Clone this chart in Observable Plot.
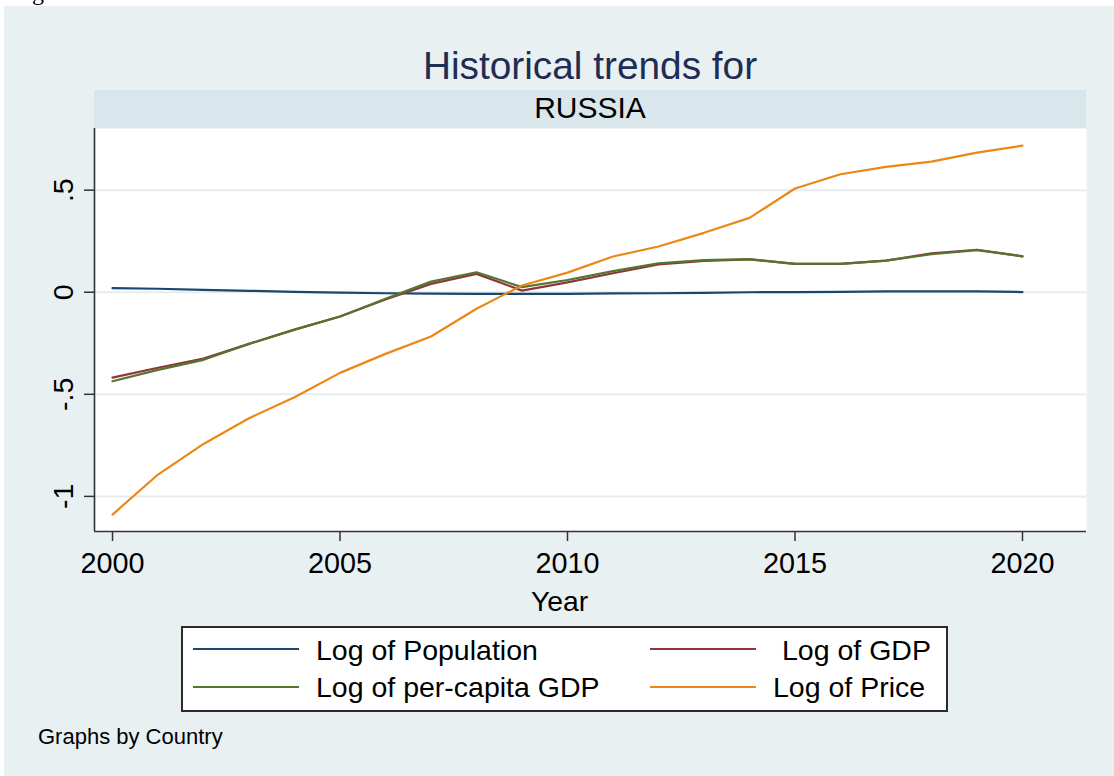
<!DOCTYPE html>
<html><head><meta charset="utf-8">
<script src="https://cdn.jsdelivr.net/npm/d3@7"></script>
<script src="https://cdn.jsdelivr.net/npm/@observablehq/plot@0.6"></script>
<style>
html,body{margin:0;padding:0;background:#fff;}
#root{position:relative;width:1114px;height:776px;overflow:hidden;font-family:"Liberation Sans",Arial,sans-serif;background:#fff;}
.abs{position:absolute;white-space:nowrap;line-height:1;}
</style></head><body><div id="root"></div>
<script>
// ---- data ----
const years = [2000, 2001, 2002, 2003, 2004, 2005, 2006, 2007, 2008, 2009, 2010,
               2011, 2012, 2013, 2014, 2015, 2016, 2017, 2018, 2019, 2020];
const logPopulation = [0.020, 0.017, 0.012, 0.007, 0.002, -0.002, -0.005, -0.007, -0.008, -0.008, -0.008,
                       -0.006, -0.005, -0.003, 0.000, 0.001, 0.002, 0.004, 0.004, 0.004, 0.001];
const logGDP = [-0.418, -0.370, -0.325, -0.253, -0.183, -0.119, -0.036, 0.041, 0.090, 0.008, 0.048,
                0.093, 0.136, 0.153, 0.161, 0.139, 0.139, 0.155, 0.190, 0.208, 0.176];
const logPerCapitaGDP = [-0.436, -0.380, -0.331, -0.253, -0.183, -0.119, -0.032, 0.052, 0.098, 0.025, 0.060,
                         0.103, 0.142, 0.157, 0.162, 0.139, 0.139, 0.155, 0.186, 0.206, 0.176];
const logPrice = [-1.089, -0.893, -0.743, -0.617, -0.514, -0.395, -0.302, -0.217, -0.081, 0.033, 0.096,
                  0.175, 0.224, 0.291, 0.364, 0.508, 0.578, 0.614, 0.640, 0.684, 0.718];
const seriesNames = ["Log of Population", "Log of GDP", "Log of per-capita GDP", "Log of Price"];
const seriesValues = [logPopulation, logGDP, logPerCapitaGDP, logPrice];
const seriesColors = ["#1a476f", "#90353b", "#55752f", "#ec8716"];
const xTicks = [2000, 2005, 2010, 2015, 2020];
const yTicks = [-1, -0.5, 0, 0.5];
const yTickLabels = ["-1", "-.5", "0", ".5"];
const titleText = "Historical trends for";
const stripText = "RUSSIA";
const xTitle = "Year";
const noteText = "Graphs by Country";

const xDomain = [1999.604, 2021.407];
const yDomain = [-1.172, 0.802];

// ---- build page ----
const root = document.getElementById("root");
function addText(txt, opts) {
  const d = document.createElement("div");
  d.className = "abs";
  d.textContent = txt;
  Object.assign(d.style, opts);
  root.appendChild(d);
  return d;
}
// cut-off glyph at very top (as in the reference)
addText("g", {left: "32px", top: "-20.5px", fontSize: "24px", fontFamily: "'Liberation Serif', serif", color: "#000", zIndex: 0});

const bg = document.createElement("div");
Object.assign(bg.style, {position: "absolute", left: "4px", top: "6px", width: "1110px", height: "770px", background: "#e8f0f2", zIndex: 1});
root.appendChild(bg);

function layer(el) { el.style.zIndex = 2; return el; }

// title
layer(addText(titleText, {left: "0px", width: "1180px", textAlign: "center", top: "47.4px", fontSize: "38.8px", color: "#1f2d54"}));

// strip
const strip = document.createElement("div");
Object.assign(strip.style, {position: "absolute", left: "94px", top: "89.5px", width: "992px", height: "39px",
  background: "#d9e6eb", textAlign: "center", fontSize: "30px", lineHeight: "36px", color: "#000", zIndex: 2});
strip.textContent = stripText;
root.appendChild(strip);

// plot
const rows = [];
seriesNames.forEach((s, i) => years.forEach((yr, j) => rows.push({series: s, year: yr, value: seriesValues[i][j]})));

const chart = Plot.plot({
  width: 1114, height: 492,
  marginLeft: 94, marginRight: 28, marginTop: 0, marginBottom: 89,
  style: {background: "transparent", fontFamily: "'Liberation Sans', Arial, sans-serif", overflow: "visible"},
  x: {domain: xDomain},
  y: {domain: yDomain},
  color: {domain: seriesNames, range: seriesColors},
  marks: [
    Plot.frame({fill: "white", stroke: null}),
    Plot.gridY(yTicks, {stroke: "#e4edf0", strokeOpacity: 1, strokeWidth: 2}),
    Plot.line(rows, {x: "year", y: "value", z: "series", stroke: "series", strokeWidth: 2.2}),
    Plot.ruleX([xDomain[0]], {stroke: "#333", strokeWidth: 1.6}),
    Plot.ruleY([yDomain[0]], {stroke: "#333", strokeWidth: 1.6}),
    Plot.axisX({ticks: xTicks, tickSize: 10, tickPadding: 11, fontSize: 28.8, tickFormat: d => String(d),
      stroke: "#333", strokeWidth: 1.5, fill: "#000", label: null}),
    Plot.axisY({ticks: yTicks, tickSize: 10, tickPadding: 12, tickRotate: -90, textAnchor: "middle", lineAnchor: "bottom",
      fontSize: 28.5, tickFormat: d => yTickLabels[yTicks.indexOf(d)], stroke: "#333", strokeWidth: 1.5, fill: "#000", label: null})
  ]
});
Object.assign(chart.style, {position: "absolute", left: "0px", top: "128px", zIndex: 2});
root.appendChild(chart);

// x title
layer(addText(xTitle, {left: "531px", top: "587.3px", fontSize: "28.3px", color: "#000"}));

// legend
const leg = document.createElement("div");
Object.assign(leg.style, {position: "absolute", left: "181px", top: "626px", width: "767px", height: "86px",
  background: "#fff", border: "2px solid #2b2b2b", boxSizing: "border-box", zIndex: 2});
root.appendChild(leg);
const keyPos = [
  {kx: 193, ky: 649.3, tx: 316, tb: 660},
  {kx: 649.5, ky: 649.3, tx: 782, tb: 660},
  {kx: 193, ky: 687, tx: 316, tb: 697},
  {kx: 649.5, ky: 687, tx: 773, tb: 697}
];
const legFont = 28.5;
seriesNames.forEach((s, i) => {
  const p = keyPos[i];
  const k = document.createElement("div");
  Object.assign(k.style, {position: "absolute", left: p.kx + "px", top: (p.ky - 1.25) + "px", width: "106px", height: "0px",
    borderTop: "2.5px solid " + seriesColors[i], zIndex: 3});
  root.appendChild(k);
  const t = addText(s, {left: p.tx + "px", top: (p.tb - 0.8465 * legFont) + "px", fontSize: legFont + "px", color: "#000"});
  t.style.zIndex = 3;
});

// note
layer(addText(noteText, {left: "38px", top: (744.5 - 0.8465 * 22) + "px", fontSize: "22px", color: "#000"}));
</script>
</body></html>
